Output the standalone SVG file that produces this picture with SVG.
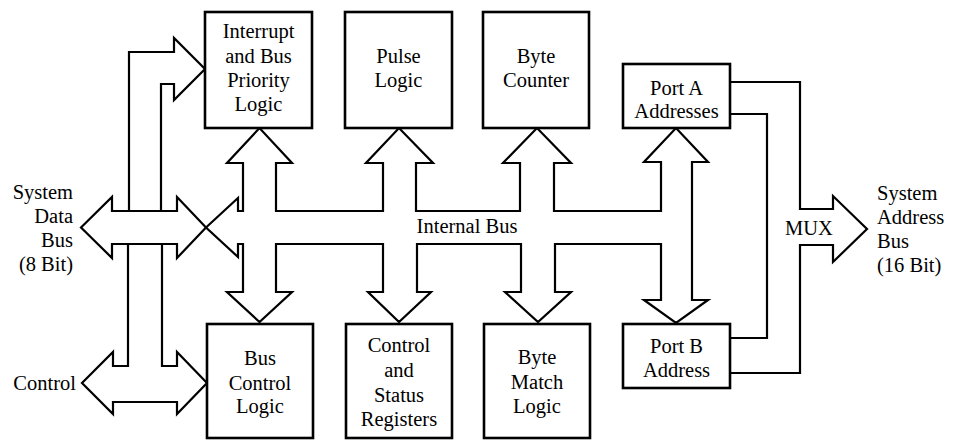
<svg xmlns="http://www.w3.org/2000/svg" width="953" height="440" viewBox="0 0 953 440">
<style>
.box{fill:#fff;stroke:#000;stroke-width:2.6}
.c{fill:none;stroke:#000;stroke-width:2.2;stroke-linejoin:miter}
.t{font-family:'Liberation Serif','DejaVu Serif',serif;font-size:20.5px;fill:#000}
.m{text-anchor:middle}
.r{text-anchor:end}
</style>
<rect width="953" height="440" fill="#fff"/>
<g id="connectors">
<path class="c" d="M81,227.5 L112,197 L112,211 L177,211 L177,197 L206,227.5 L177,258 L177,244 L112,244 L112,258 Z"/>
<path class="c" d="M129,211 L129,52 L174,52 L174,38 L205,69 L174,100 L174,84 L161,84 L161,211"/>
<path class="c" d="M128,244 L128,366 L113,366 L113,352 L82,383 L113,414 L113,402 L177,402 L177,414 L207,383 L177,352 L177,366 L162,366 L162,244"/>
<path class="c" d="M206,227.5 L238,198 L238,211 L243,211 L243,163 L227,163 L259.5,128 L292,163 L276,163 L276,211 L383,211 L383,163 L366,163 L399,128 L433,163 L416,163 L416,211 L520,211 L520,163 L503,163 L537,128 L571,163 L554,163 L554,211 L661,211 L661,162 L644,162 L676,128 L708,162 L692,162 L692,300 L708,300 L676,323 L644,300 L661,300 L661,244 L555,244 L555,292 L571,292 L538,322 L505,292 L521,292 L521,244 L417,244 L417,292 L431,292 L399,322 L368,292 L383,292 L383,244 L276,244 L276,292 L292,292 L259.5,322 L227,292 L243,292 L243,244 L238,244 L238,257 Z"/>
<path class="c" d="M730,82 L800,82 L800,209 L833,209 L833,196 L867,229 L833,262 L833,245 L800,245 L800,373 L730,373"/>
<path class="c" d="M730,114 L767,114 L767,338 L730,338"/>
</g>
<g id="interrupt"><rect class="box" x="205" y="12" width="107" height="116"/>
<text class="t m" font-family="Liberation Serif, serif" x="258.5" y="38">Interrupt</text><text class="t m" font-family="Liberation Serif, serif" x="258.5" y="63">and Bus</text><text class="t m" font-family="Liberation Serif, serif" x="258.5" y="87">Priority</text><text class="t m" font-family="Liberation Serif, serif" x="258.5" y="111">Logic</text></g>
<g id="pulse"><rect class="box" x="345" y="12" width="107" height="116"/>
<text class="t m" font-family="Liberation Serif, serif" x="398.5" y="63">Pulse</text><text class="t m" font-family="Liberation Serif, serif" x="398.5" y="87">Logic</text></g>
<g id="bytecounter"><rect class="box" x="483" y="12" width="106" height="116"/>
<text class="t m" font-family="Liberation Serif, serif" x="536" y="63">Byte</text><text class="t m" font-family="Liberation Serif, serif" x="536" y="87">Counter</text></g>
<g id="porta"><rect class="box" x="623" y="64" width="107" height="64"/>
<text class="t m" font-family="Liberation Serif, serif" x="676.5" y="95">Port A</text><text class="t m" font-family="Liberation Serif, serif" x="676.5" y="118">Addresses</text></g>
<g id="portb"><rect class="box" x="623" y="324" width="107" height="64"/>
<text class="t m" font-family="Liberation Serif, serif" x="676.5" y="353">Port B</text><text class="t m" font-family="Liberation Serif, serif" x="676.5" y="377">Address</text></g>
<g id="buscontrol"><rect class="box" x="207" y="324" width="106" height="114"/>
<text class="t m" font-family="Liberation Serif, serif" x="260" y="365">Bus</text><text class="t m" font-family="Liberation Serif, serif" x="260" y="390">Control</text><text class="t m" font-family="Liberation Serif, serif" x="260" y="413">Logic</text></g>
<g id="controlstatus"><rect class="box" x="346" y="324" width="106" height="114"/>
<text class="t m" font-family="Liberation Serif, serif" x="399" y="352">Control</text><text class="t m" font-family="Liberation Serif, serif" x="399" y="377">and</text><text class="t m" font-family="Liberation Serif, serif" x="399" y="402">Status</text><text class="t m" font-family="Liberation Serif, serif" x="399" y="426">Registers</text></g>
<g id="bytematch"><rect class="box" x="484" y="324" width="106" height="114"/>
<text class="t m" font-family="Liberation Serif, serif" x="537" y="364">Byte</text><text class="t m" font-family="Liberation Serif, serif" x="537" y="389">Match</text><text class="t m" font-family="Liberation Serif, serif" x="537" y="413">Logic</text></g>
<g id="labels">
<text class="t r" font-family="Liberation Serif, serif" x="73" y="199">System</text><text class="t r" font-family="Liberation Serif, serif" x="73" y="223">Data</text><text class="t r" font-family="Liberation Serif, serif" x="73" y="247">Bus</text><text class="t r" font-family="Liberation Serif, serif" x="73" y="271">(8 Bit)</text>
<text class="t r" font-family="Liberation Serif, serif" x="76" y="390">Control</text>
<text class="t m" font-family="Liberation Serif, serif" x="467" y="233">Internal Bus</text>
<text class="t m" font-family="Liberation Serif, serif" x="809" y="235">MUX</text>
<text class="t" font-family="Liberation Serif, serif" x="877" y="200">System</text><text class="t" font-family="Liberation Serif, serif" x="877" y="224">Address</text><text class="t" font-family="Liberation Serif, serif" x="877" y="248">Bus</text><text class="t" font-family="Liberation Serif, serif" x="877" y="272">(16 Bit)</text>
</g>
</svg>
